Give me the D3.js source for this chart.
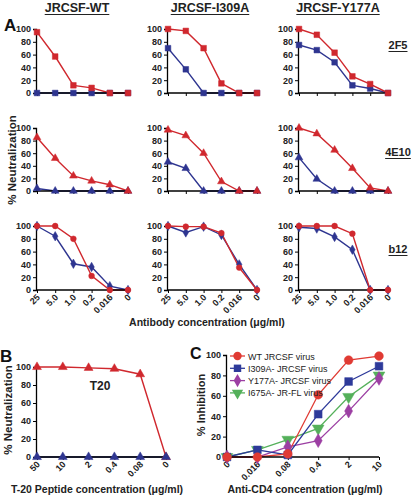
<!DOCTYPE html>
<html><head><meta charset="utf-8">
<script src="https://cdn.jsdelivr.net/npm/d3@7"></script>
<style>body{margin:0;background:#fff}svg{display:block}text{font-family:"Liberation Sans",Arial,sans-serif}</style>
</head><body><svg id="c" width="416" height="498"></svg>
<script>
// ---- data ----
const viruses = ["JRCSF-WT","JRCSF-I309A","JRCSF-Y177A"];
const antibodies = ["2F5","4E10","b12"];
const concA = ["25","5.0","1.0","0.2","0.016","0"];
// each: [WT, I309A, Y177A]
const red2F5  = [[95,57,12,8,0,0],[100,97,70,15,0,0],[100,91,63,26,14,0]];
const blue2F5 = [[0,0,0,0,0,0],[70,37,0,0,0,0],[75,67,48,12,7,0]];
const red4E10  = [[85,52,24,16,10,0],[97,88,60,15,0,0],[100,91,65,36,5,0]];
const blue4E10 = [[4,0,0,0,0,0],[46,36,0,0,0,0],[53,19,0,0,0,0]];
const redB12  = [[100,100,80,22,0,0],[100,99,99,89,35,0],[100,100,100,88,0,0]];
const blueB12 = [[100,84,41,36,6,0],[100,90,99,86,40,0],[98,96,83,63,0,0]];
const concB = ["50","10","2","0.4","0.08","0"];
const t20Red  = [100,100,99,98,92,0];
const t20Blue = [0,0,0,0,0,0];
const concC = ["0","0.016","0.08","0.4","2","10"];
const seriesC = ["WT JRCSF virus","I309A- JRCSF virus","Y177A- JRCSF virus","I675A- JR-FL virus"];
const cWT    = [0,0,3,61,95,99];
const cI309A = [0,7,2,42,74,89];
const cY177A = [0,0,10,16,45,77];
const cI675A = [0,7,17,28,59,80];
const yTicks = [0,20,40,60,80,100];

const RED="#d0282e", BLUE="#2e3590";
const svg = d3.select("#c");
const font = '"Liberation Sans",Arial,sans-serif';

function sym(type,size){return d3.symbol().type(type).size(size)();}

function panel(opts){
  const {xr, yr, cats, series, showX, tickFs} = opts;
  const x = d3.scalePoint().domain(cats).range(xr);
  const y = d3.scaleLinear().domain([0,100]).range(yr);
  const g = svg.append("g");
  const line = d3.line().x((d,i)=>x(cats[i])).y(d=>y(d));
  series.forEach(s=>{
    g.append("path").attr("d",line(s.values)).attr("fill","none")
      .attr("stroke",s.color).attr("stroke-width",s.lw||1.4);
  });
  const ya = g.append("g").attr("transform",`translate(${xr[0]-1},0)`)
    .call(d3.axisLeft(y).tickValues(yTicks).tickSize(3).tickPadding(2));
  ya.select(".domain").attr("stroke","#000").attr("stroke-width",1.3);
  ya.selectAll(".tick line").attr("stroke","#000");
  ya.selectAll("text").attr("font-family",font).attr("font-weight","bold").attr("font-size",tickFs||9).attr("fill","#222");
  const xa = g.append("g").attr("transform",`translate(0,${yr[0]})`)
    .call(d3.axisBottom(x).tickSize(3).tickSizeOuter(0));
  xa.select(".domain").attr("stroke","#000").attr("stroke-width",1.3).attr("d",`M${xr[0]-1},0H${xr[1]}`);
  xa.selectAll(".tick line").attr("stroke","#000");
  if(showX){
    xa.selectAll("text").attr("font-family",font).attr("font-weight","bold").attr("font-size",tickFs||9).attr("fill","#222")
      .attr("text-anchor","end").attr("dy",0).attr("y",0)
      .attr("transform","translate(3,8) rotate(-45)");
  } else xa.selectAll("text").remove();
  series.forEach(s=>{
    g.selectAll(null).data(s.values).enter().append("path")
      .attr("d",sym(s.sym,s.size)).attr("fill",s.color).attr("stroke",s.color).attr("stroke-width",0.5)
      .attr("transform",(d,i)=>`translate(${x(cats[i])},${y(d)})${s.rot?` rotate(${s.rot})`:""}`);
  });
  return {x,y,g};
}

const colR = [[37,128],[168,257],[299,388]];
const rowY = [[93,29],[191,128],[290,226]];
const reds=[red2F5,red4E10,redB12], blues=[blue2F5,blue4E10,blueB12];
const syms=[[d3.symbolSquare,d3.symbolSquare],[d3.symbolTriangle,d3.symbolTriangle],[d3.symbolCircle,d3.symbolDiamond]];
for(let r=0;r<3;r++)for(let c=0;c<3;c++){
  panel({xr:colR[c],yr:rowY[r],cats:concA,showX:r===2,series:[
    {values:blues[r][c],color:BLUE,sym:syms[r][1],size:r===0?32:26},
    {values:reds[r][c],color:RED,sym:syms[r][0],size:r===0?32:26}
  ]});
}
const tcx=[77,210,338];
viruses.forEach((v,i)=>{
  const t=svg.append("text").attr("x",tcx[i]).attr("y",12).attr("text-anchor","middle")
    .attr("font-weight","bold").attr("font-size",12.5).attr("fill","#222").text(v);
  const w=t.node().getComputedTextLength();
  svg.append("line").attr("x1",tcx[i]-w/2).attr("x2",tcx[i]+w/2).attr("y1",14.5).attr("y2",14.5).attr("stroke","#222").attr("stroke-width",1.1);
});
const aby=[49,156,253];
antibodies.forEach((a,i)=>{
  const t=svg.append("text").attr("x",398).attr("y",aby[i]).attr("text-anchor","middle")
    .attr("font-weight","bold").attr("font-size",11).attr("fill","#222").text(a);
  const w=t.node().getComputedTextLength();
  svg.append("line").attr("x1",398-w/2).attr("x2",398+w/2).attr("y1",aby[i]+2.5).attr("y2",aby[i]+2.5).attr("stroke","#222").attr("stroke-width",1);
});
svg.append("text").attr("x",4).attr("y",31).attr("font-weight","bold").attr("font-size",17).attr("fill","#111").text("A");
svg.append("text").attr("transform","translate(16,160) rotate(-90)").attr("text-anchor","middle")
  .attr("font-weight","bold").attr("font-size",11.5).attr("fill","#222").text("% Neutralization");
svg.append("text").attr("x",207).attr("y",326).attr("text-anchor","middle")
  .attr("font-weight","bold").attr("font-size",10.5).attr("fill","#222").text("Antibody concentration (\u03bcg/ml)");

// panel B
panel({xr:[37,166],yr:[457,367],cats:concB,showX:true,series:[
  {values:t20Red,color:RED,sym:d3.symbolTriangle,size:34},
  {values:t20Blue,color:BLUE,sym:d3.symbolTriangle,size:34}
]});
svg.append("text").attr("x",0).attr("y",362).attr("font-weight","bold").attr("font-size",17).attr("fill","#111").text("B");
svg.append("text").attr("x",100).attr("y",390).attr("text-anchor","middle").attr("font-weight","bold").attr("font-size",12).attr("fill","#222").text("T20");
svg.append("text").attr("transform","translate(12,410) rotate(-90)").attr("text-anchor","middle")
  .attr("font-weight","bold").attr("font-size",11.5).attr("fill","#222").text("% Neutralization");
svg.append("text").attr("x",97).attr("y",493).attr("text-anchor","middle")
  .attr("font-weight","bold").attr("font-size",10.5).attr("fill","#222").text("T-20 Peptide concentration (\u03bcg/ml)");

// panel C
const cCols=["#e03a33","#2e3a9a","#9c3fa3","#54b05a"];
const cSyms=[d3.symbolCircle,d3.symbolSquare,d3.symbolDiamond,d3.symbolTriangle];
const cRot=[0,0,0,180];
const cVals=[cWT,cI309A,cY177A,cI675A];
panel({xr:[227,379],yr:[457,355],cats:concC,showX:true,series:cVals.map((v,i)=>({values:v,color:cCols[i],sym:cSyms[i],size:i===2?55:60,rot:cRot[i],lw:1.3})).reverse()});
svg.append("text").attr("x",190).attr("y",359).attr("font-weight","bold").attr("font-size",16).attr("fill","#111").text("C");
svg.append("text").attr("transform","translate(205,405) rotate(-90)").attr("text-anchor","middle")
  .attr("font-weight","bold").attr("font-size",11).attr("fill","#222").text("% Inhibition");
svg.append("text").attr("x",305).attr("y",493).attr("text-anchor","middle")
  .attr("font-weight","bold").attr("font-size",10.5).attr("fill","#222").text("Anti-CD4 concentration (\u03bcg/ml)");
const lg=svg.append("g");
seriesC.forEach((s,i)=>{
  const yy=356+i*12.3;
  lg.append("line").attr("x1",230).attr("x2",245).attr("y1",yy).attr("y2",yy).attr("stroke",cCols[i]).attr("stroke-width",1.3);
  lg.append("path").attr("d",sym(cSyms[i],i===2?50:55)).attr("fill",cCols[i]).attr("transform",`translate(237.5,${yy}) rotate(${cRot[i]})`);
  lg.append("text").attr("x",248).attr("y",yy+3.5).attr("font-size",9).attr("fill","#222").text(s);
});
</script></body></html>
